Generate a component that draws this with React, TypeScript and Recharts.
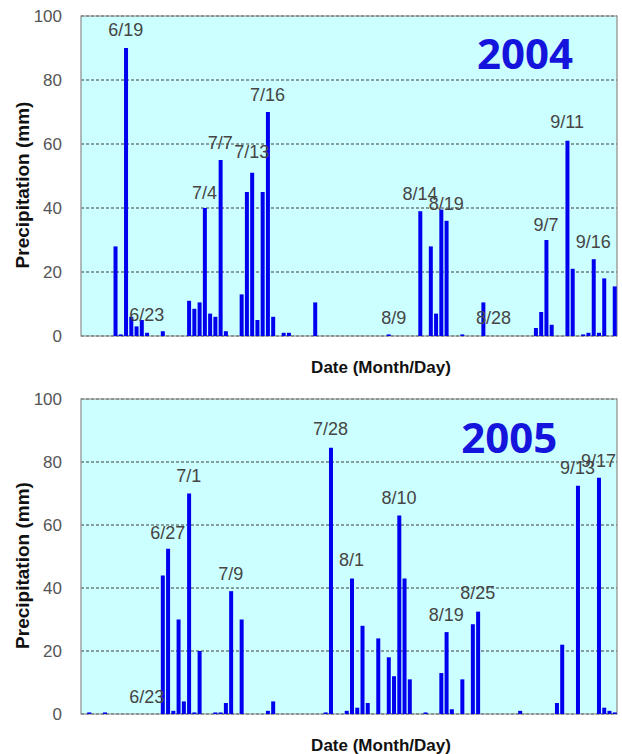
import {
  BarChart, Bar, XAxis, YAxis, CartesianGrid, ReferenceArea, ReferenceDot,
} from "recharts";

// category axis: every day 6/11 .. 9/20
const monthSpans: [number, number, number][] = [[6, 11, 30], [7, 1, 31], [8, 1, 31], [9, 1, 20]];
const days: string[] = monthSpans.flatMap(([m, a, b]) =>
  Array.from({ length: b - a + 1 }, (_, i) => `${m}/${a + i}`));

const yTicks = [0, 20, 40, 60, 80, 100];

// rain days only, every other day is 0 mm
const rain2004: [string, number][] = [
  ["6/17", 28], ["6/18", 0.5], ["6/19", 90], ["6/20", 6], ["6/21", 3], ["6/22", 5], ["6/23", 1], ["6/26", 1.5],
  ["7/1", 11], ["7/2", 8.5], ["7/3", 10.5], ["7/4", 40], ["7/5", 7], ["7/6", 6], ["7/7", 55], ["7/8", 1.5],
  ["7/11", 13], ["7/12", 45], ["7/13", 51], ["7/14", 5], ["7/15", 45], ["7/16", 70], ["7/17", 6],
  ["7/19", 1], ["7/20", 1], ["7/25", 10.5],
  ["8/8", 0.5], ["8/14", 39], ["8/16", 28], ["8/17", 7], ["8/18", 39.5], ["8/19", 36], ["8/22", 0.5], ["8/26", 10.5],
  ["9/5", 2.5], ["9/6", 7.5], ["9/7", 30], ["9/8", 3.5], ["9/11", 61], ["9/12", 21], ["9/14", 0.5],
  ["9/15", 1], ["9/16", 24], ["9/17", 1], ["9/18", 18], ["9/20", 15.5],
];

const rain2005: [string, number][] = [
  ["6/12", 0.5], ["6/15", 0.5], ["6/26", 44], ["6/27", 52.5], ["6/28", 1], ["6/29", 30], ["6/30", 4],
  ["7/1", 70], ["7/2", 0.5], ["7/3", 20], ["7/6", 0.5], ["7/7", 0.5], ["7/8", 3.5], ["7/9", 39], ["7/11", 30],
  ["7/16", 1], ["7/17", 4], ["7/27", 0.5], ["7/28", 84.5], ["7/31", 1],
  ["8/1", 43], ["8/2", 2], ["8/3", 28], ["8/4", 3.5], ["8/6", 24], ["8/8", 18], ["8/9", 12], ["8/10", 63],
  ["8/11", 43], ["8/12", 11], ["8/15", 0.5], ["8/18", 13], ["8/19", 26], ["8/20", 1.5], ["8/22", 11],
  ["8/24", 28.5], ["8/25", 32.5],
  ["9/2", 1], ["9/9", 3.5], ["9/10", 22], ["9/13", 72.5], ["9/17", 75], ["9/18", 2], ["9/19", 1], ["9/20", 0.5],
];

// date labels written on the plot: [text, day, level in mm]
const notes2004: [string, string, number][] = [
  ["6/19", "6/19", 95.5], ["6/23", "6/23", 6.6], ["7/4", "7/4", 44.7], ["7/7", "7/7", 60.2],
  ["7/13", "7/13", 57.5], ["7/16", "7/16", 75.3], ["8/9", "8/9", 5.6], ["8/14", "8/14", 44.5],
  ["8/19", "8/19", 41.4], ["8/28", "8/28", 5.6], ["9/7", "9/7", 34.7], ["9/11", "9/11", 67],
  ["9/16", "9/16", 29.4],
];

const notes2005: [string, string, number][] = [
  ["6/23", "6/23", 5.5], ["6/27", "6/27", 57.5], ["7/1", "7/1", 75.6], ["7/9", "7/9", 44.6],
  ["7/28", "7/28", 90.4], ["8/1", "8/1", 49], ["8/10", "8/10", 68.5], ["8/19", "8/19", 31.4],
  ["8/25", "8/25", 38.3], ["9/13", "9/13", 78], ["9/17", "9/17", 80.4],
];

function toTable(rain: [string, number][]) {
  const m = new Map(rain);
  return days.map((d) => ({ date: d, rain: m.get(d) ?? 0 }));
}

const FONT = "'Liberation Sans', Arial, sans-serif";

const noteLabel = (text: string, big = false) => (p: any) => {
  const vb = p.viewBox || {};
  return (
    <text
      x={vb.x} y={vb.y} textAnchor="middle" dominantBaseline="central"
      fontFamily={big ? "'Noto Sans', sans-serif" : FONT}
      fontSize={big ? 42 : 18} fontWeight={big ? 700 : 400}
      fill={big ? "#1414dc" : "#454545"}
    >
      {text}
    </text>
  );
};

const yTitle = (p: any) => {
  const vb = p.viewBox || { x: 0, y: 0, width: 81, height: 300 };
  const cx = vb.x + 22, cy = vb.y + vb.height / 2 + 9;
  return (
    <text x={cx} y={cy} transform={`rotate(-90 ${cx} ${cy})`} textAnchor="middle" dominantBaseline="central"
      fontFamily={FONT} fontSize={19} fontWeight={700} fill="#111">
      Precipitation (mm)
    </text>
  );
};

const xTitle = (p: any) => {
  const vb = p.viewBox || { x: 81, y: 0, width: 536, height: 40 };
  return (
    <text x={vb.x + vb.width / 2 + 32} y={vb.y + 31} textAnchor="middle" dominantBaseline="central"
      fontFamily={FONT} fontSize={17} fontWeight={700} fill="#111">
      Date (Month/Day)
    </text>
  );
};

function RainPanel({ rain, notes, year, yearAt, height, top, axisH }: {
  rain: [string, number][]; notes: [string, string, number][]; year: string;
  yearAt: [string, number]; height: number; top: number; axisH: number;
}) {
  return (
    <BarChart width={622} height={height} data={toTable(rain)} barSize={4}
      margin={{ top, right: 5, bottom: 0, left: 0 }}>
      <CartesianGrid vertical={false} fill="#ccffff" fillOpacity={1} stroke="#3c3c3c" strokeDasharray="3 2" />
      <XAxis dataKey="date" tick={false} tickLine={false} axisLine={false} height={axisH} label={{ content: xTitle }} />
      <YAxis domain={[0, 100]} ticks={yTicks} width={81} tickLine={false} axisLine={false}
        tickSize={6} tickMargin={13} interval={0}
        tick={{ fill: "#555", fontSize: 17, fontFamily: FONT }} label={{ content: yTitle }} />
      <ReferenceArea y1={0} y2={100} fill="none" fillOpacity={0} stroke="#8c8c8c" strokeWidth={1.2} />
      <Bar dataKey="rain" fill="#0000ee" isAnimationActive={false} />
      {notes.map(([t, d, v]) => (
        <ReferenceDot key={t + d} x={d} y={v} r={0} stroke="none" fill="none" label={{ content: noteLabel(t) }} />
      ))}
      <ReferenceDot x={yearAt[0]} y={yearAt[1]} r={0} stroke="none" fill="none" label={{ content: noteLabel(year, true) }} />
    </BarChart>
  );
}

export default function App() {
  return (
    <div style={{ position: "absolute", left: 0, top: 0, width: 622, height: 754, background: "#fff", fontFamily: FONT }}>
      <RainPanel rain={rain2004} notes={notes2004} year="2004" yearAt={["9/3", 88.6]} height={380} top={16} axisH={44} />
      <RainPanel rain={rain2005} notes={notes2005} year="2005" yearAt={["8/31", 88]} height={374} top={19} axisH={40} />
    </div>
  );
}
